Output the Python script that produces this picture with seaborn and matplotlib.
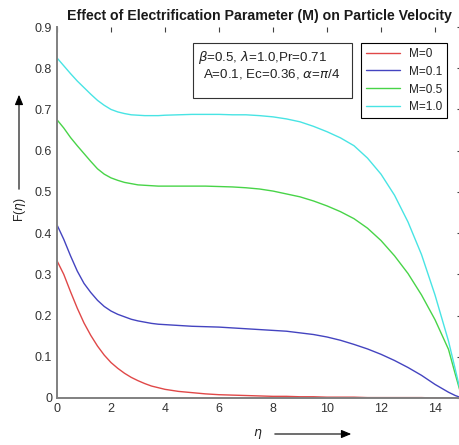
import numpy as np
import pandas as pd
import seaborn as sns
import matplotlib
matplotlib.use("Agg")
import matplotlib.pyplot as plt
from matplotlib.patches import Rectangle, FancyArrowPatch
from matplotlib.ticker import FuncFormatter

# values
eta = [0, 0.25, 0.5, 0.75, 1.0, 1.25, 1.5, 1.75, 2.0, 2.25, 2.5, 2.75, 3.0,
       3.25, 3.5, 3.75, 4.0, 4.5, 5.0, 5.5, 6.0, 6.5, 7.0, 7.5, 8.0, 8.5,
       9.0, 9.5, 10.0, 10.5, 11.0, 11.5, 12.0, 12.5, 13.0, 13.5, 14.0, 14.5,
       14.75, 15.0]

f_m0 = [0.333, 0.300, 0.258, 0.218, 0.182, 0.152, 0.126, 0.104, 0.086, 0.072,
        0.060, 0.050, 0.042, 0.035, 0.029, 0.025, 0.021, 0.016, 0.013, 0.010,
        0.008, 0.007, 0.006, 0.005, 0.004, 0.004, 0.003, 0.003, 0.002, 0.002,
        0.002, 0.001, 0.001, 0.001, 0.001, 0.001, 0.0, 0.0, 0.0, 0.0]
f_m01 = [0.420, 0.385, 0.345, 0.308, 0.278, 0.256, 0.237, 0.222, 0.211, 0.203,
         0.197, 0.191, 0.187, 0.184, 0.181, 0.179, 0.178, 0.176, 0.174, 0.173,
         0.172, 0.170, 0.168, 0.166, 0.164, 0.162, 0.158, 0.154, 0.148, 0.140,
         0.130, 0.119, 0.106, 0.091, 0.074, 0.055, 0.033, 0.014, 0.006, 0.0]
f_m05 = [0.675, 0.655, 0.632, 0.612, 0.593, 0.574, 0.556, 0.543, 0.534, 0.528,
         0.523, 0.520, 0.517, 0.516, 0.515, 0.514, 0.514, 0.514, 0.514, 0.514,
         0.513, 0.512, 0.510, 0.507, 0.502, 0.495, 0.488, 0.478, 0.466, 0.452,
         0.435, 0.412, 0.382, 0.345, 0.302, 0.250, 0.190, 0.118, 0.058, 0.0]
f_m10 = [0.825, 0.806, 0.787, 0.769, 0.753, 0.737, 0.722, 0.710, 0.700, 0.694,
         0.690, 0.687, 0.686, 0.685, 0.685, 0.685, 0.686, 0.687, 0.688, 0.688,
         0.688, 0.687, 0.687, 0.685, 0.682, 0.677, 0.670, 0.659, 0.646, 0.631,
         0.612, 0.582, 0.543, 0.492, 0.427, 0.348, 0.250, 0.138, 0.070, 0.0]

labels = ["M=0", "M=0.1", "M=0.5", "M=1.0"]
colors = ["#e04848", "#4444c0", "#48d448", "#48e4e4"]

df = pd.concat([
    pd.DataFrame({"eta": eta, "F": vals, "M": lab})
    for vals, lab in zip([f_m0, f_m01, f_m05, f_m10], labels)
])

sns.set_style("white")
plt.rcParams["font.family"] = ["Liberation Sans", "DejaVu Sans"]
plt.rcParams["mathtext.fontset"] = "dejavusans"

W, H = 459, 445
fig = plt.figure(figsize=(W / 100, H / 100), dpi=100)
ax = fig.add_axes([57 / W, 1 - 398 / H, 405 / W, 371 / H])

sns.lineplot(data=df, x="eta", y="F", hue="M", palette=colors, linewidth=1.0,
             ax=ax, legend=False, sort=False)

ax.set_xlim(0, 15)
ax.set_ylim(0, 0.9)
ax.set_xticks(np.arange(0, 15, 2))
ax.set_yticks(np.arange(0, 0.91, 0.1))
fmt = FuncFormatter(lambda v, p: f"{v:g}")
ax.xaxis.set_major_formatter(fmt)
ax.yaxis.set_major_formatter(fmt)
ax.tick_params(direction="in", length=3.5, width=0.8, colors="#404040",
               labelsize=9, top=True, right=True, labelcolor="#333333")
for s in ["top", "right"]:
    ax.spines[s].set_visible(False)
for s in ["left", "bottom"]:
    ax.spines[s].set_color("#808080")
    ax.spines[s].set_linewidth(1.4)
ax.set_xlabel("")
ax.set_ylabel("")

ax.set_title("Effect of Electrification Parameter (M) on Particle Velocity",
             fontsize=10.2, fontweight="bold", pad=5, color="#1a1a1a")

# legend
handles = [plt.Line2D([], [], color=c, lw=1.0) for c in colors]
leg = ax.legend(handles, labels, loc="upper left",
                bbox_to_anchor=(361 / W, 1 - 43 / H),
                bbox_transform=fig.transFigure, borderaxespad=0,
                fontsize=8.5, handlelength=2.9, handletextpad=0.75,
                labelspacing=0.5, borderpad=0.4, fancybox=False,
                framealpha=1, edgecolor="black")
leg.get_frame().set_linewidth(0.8)
for t in leg.get_texts():
    t.set_color("#222222")

# parameter box
fig.add_artist(Rectangle((193 / W, 1 - 98 / H), 159 / W, 55 / H,
                         transform=fig.transFigure, fc="white",
                         ec="#333333", lw=0.8))
fig.text(198 / W, 1 - 57 / H, r"$\beta$=0.5, $\lambda$=1.0,Pr=0.71",
         fontsize=9.6, color="#222222", ha="left", va="center")
fig.text(203 / W, 1 - 74 / H, r"A=0.1, Ec=0.36, $\alpha$=$\pi$/4",
         fontsize=9.6, color="#222222", ha="left", va="center")

# axis labels with arrows
fig.text(20 / W, 1 - 210 / H, r"F($\eta$)", rotation=90, fontsize=8.8,
         ha="center", va="center", color="#222222")
fig.add_artist(FancyArrowPatch(
    (19 / W, 1 - 192 / H), (19 / W, 1 - 92 / H),
    transform=fig.transFigure, arrowstyle="-|>,head_length=6,head_width=2.5",
    color="black", lw=0.8))
fig.text(258 / W, 1 - 434 / H, r"$\eta$", fontsize=9, ha="center",
         va="center", color="#222222")
fig.add_artist(FancyArrowPatch(
    (272 / W, 1 - 434 / H), (354 / W, 1 - 434 / H),
    transform=fig.transFigure, arrowstyle="-|>,head_length=6,head_width=2.5",
    color="black", lw=0.8))

fig.savefig("out.png", dpi=100)
